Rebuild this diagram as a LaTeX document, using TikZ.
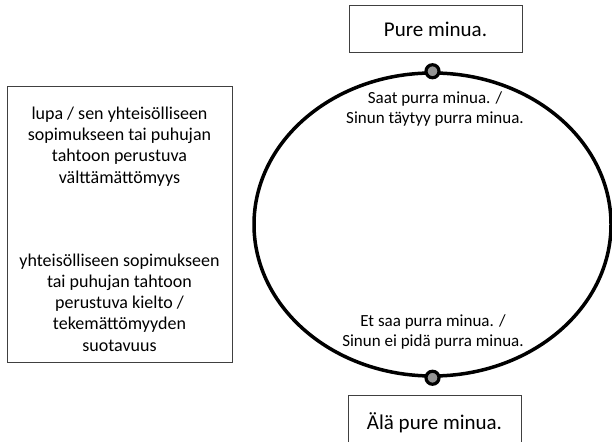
\documentclass[tikz,border=0pt]{standalone}
\usepackage{fontspec}
\setmainfont{Carlito}
\usetikzlibrary{shapes.geometric}

\tikzset{
  labelbox/.style={draw=black!75, line width=1pt, rectangle, inner sep=0pt,
    font=\fontsize{21}{25}\selectfont},
  notebox/.style={draw=black!75, line width=1pt, rectangle, inner sep=0pt},
  notetext/.style={align=center, inner sep=0pt,
    font=\fontsize{18}{21.3}\selectfont},
  ringtext/.style={align=center, inner sep=0pt,
    font=\fontsize{17}{20.5}\selectfont},
  ring/.style={draw=black, line width=3.5pt, ellipse, inner sep=0pt},
  pole/.style={circle, draw=black, fill=black!42, line width=3.2pt,
    minimum size=13pt, inner sep=0pt}
}

\begin{document}
\begin{tikzpicture}[x=1pt, y=1pt]
  \useasboundingbox (0,0) rectangle (612,441);

  % outcome boxes above and below the cycle
  \node[labelbox, minimum width=173, minimum height=47] (pure) at (435.5,411.5) {Pure minua.};
  \node[labelbox, minimum width=173, minimum height=54, anchor=north] (ala) at (434.5,46) {Älä pure minua.};

  % the modal cycle
  \node[ring, minimum width=357, minimum height=303] (cycle) at (432.5,216.5) {};
  \node[pole] (ptop) at (cycle.north) {};
  \node[pole] (pbot) at (cycle.south) {};

  \node[ringtext] (may) at (435,332) {Saat purra minua. /\\Sinun täytyy purra minua.};
  \node[ringtext] (maynot) at (433,109) {Et saa purra minua. /\\Sinun ei pidä purra minua.};

  % legend box on the left
  \node[notebox, minimum width=225, minimum height=276] (legend) at (119.5,216) {};
  \node[notetext] (perm) at (119.5,294.5)
    {lupa / sen yhteisölliseen\\sopimukseen tai puhujan\\tahtoon perustuva\\välttämättömyys};
  \node[notetext] (forb) at (119.5,138.5)
    {yhteisölliseen sopimukseen\\tai puhujan tahtoon\\perustuva kielto /\\tekemättömyyden\\suotavuus};
\end{tikzpicture}
\end{document}
